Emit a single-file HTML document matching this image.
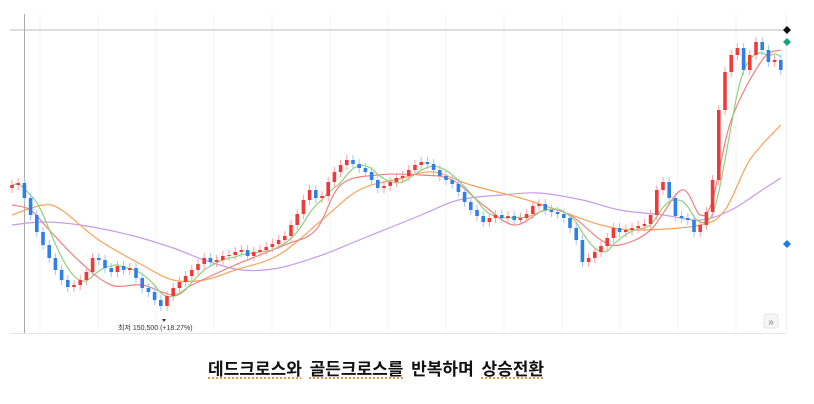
<!DOCTYPE html>
<html><head><meta charset="utf-8">
<style>
html,body{margin:0;padding:0;background:#fff;}
body{width:814px;height:404px;position:relative;overflow:hidden;font-family:"Liberation Sans","Noto Sans CJK KR",sans-serif;}
#caption{position:absolute;left:208px;top:355px;font-size:17px;font-weight:bold;color:#111;white-space:nowrap;font-family:"Liberation Sans","Noto Sans CJK KR",sans-serif;letter-spacing:0px;word-spacing:3px;}
#caption span{text-decoration:underline dotted #e08a2a;text-underline-offset:3px;}
</style></head>
<body>
<svg id="chart" width="814" height="345" style="position:absolute;left:0;top:0">
  <g id="grid"></g>
  <line x1="10" y1="30" x2="786" y2="30" stroke="#bbb" stroke-width="1"/>
  <line x1="24.5" y1="14" x2="24.5" y2="333" stroke="#aaa" stroke-width="1"/>
  <line x1="786.5" y1="14" x2="786.5" y2="333" stroke="#f0f0f0"/>
  <line x1="10" y1="333.5" x2="786" y2="333.5" stroke="#e6e6e6"/>
  <g id="mas"></g>
  <g id="candles"></g>
  <path d="M783 30 l4 -4 l4 4 l-4 4z" fill="#111"/>
  <path d="M783 42 l4 -4 l4 4 l-4 4z" fill="#1aa37a"/>
  <path d="M783 244 l4 -4 l4 4 l-4 4z" fill="#1e78e6"/>
  <path d="M162 319 l4 0 l-2 3z" fill="#333"/>
  <text x="118" y="330" font-size="7" fill="#333" font-family="Liberation Sans, Noto Sans CJK KR, sans-serif">최저 150,500 (+18.27%)</text>
  <g>
    <rect x="764" y="314" width="14" height="14" rx="2" fill="#f6f6f6" stroke="#e4e4e4"/>
    <text x="771" y="325" font-size="10" fill="#777" text-anchor="middle">»</text>
  </g>
</svg>
<div id="caption"><span>데드크로스와</span> <span>골든크로스를</span> 반복하며 <span>상승전환</span></div>
<script>
// close values (arbitrary price units)
const closes = [215,217,202,185,168,155,142,130,120,113,115,120,128,142,140,132,128,134,130,132,122,112,108,100,94,104,112,118,124,130,136,142,138,140,144,145,148,150,144,148,150,153,156,160,164,175,186,200,210,202,204,218,228,235,240,236,232,228,220,212,214,218,222,224,230,235,238,236,230,224,220,216,208,198,190,184,178,182,185,182,184,180,182,186,194,196,190,188,186,182,172,160,138,142,148,154,162,172,168,170,172,174,176,185,210,218,202,184,182,180,168,175,188,220,290,328,345,352,330,345,358,350,338,340,330];
const ma20Idx = [0,3,6,11,16,21,26,29,36,44,49,53,59,66,71,76,81,86,90,95,98,103,108,111,113,116,121,124];
const ma20Val = [195,190,170,138,115,115,105,115,135,155,170,215,225,225,220,195,175,190,185,160,155,170,210,185,200,280,340,350];
const ma60Idx = [0,5,8,14,21,26,31,36,43,50,56,63,68,74,82,88,95,101,111,115,119,124];
const ma60Val = [185,195,190,160,135,120,120,130,145,180,210,222,228,215,202,190,175,170,175,190,240,275];
const ma120Idx = [0,5,11,19,26,31,37,43,50,56,66,72,79,85,92,98,105,111,116,121,124];
const ma120Val = [175,178,175,165,152,140,130,132,145,160,185,200,205,207,200,190,185,180,190,210,222];

const x0 = 12, step = 6.2;
function xS(i){return x0 + i*step;}
function yS(v){return 400 - v;}
const NS = "http://www.w3.org/2000/svg";

const grid = document.getElementById('grid');
for (let gx = 40; gx < 786; gx += 58) {
  const l = document.createElementNS(NS,'line');
  
  
  l.setAttribute('x1', gx); l.setAttribute('x2', gx);
  l.setAttribute('y1', 14); l.setAttribute('y2', 333);
  l.setAttribute('stroke', '#f3f3f3');
  grid.appendChild(l);
}

function smoothPath(pts){
  let d = 'M' + pts[0][0] + ' ' + pts[0][1];
  for (let k = 1; k < pts.length; k++) {
    const p0 = pts[k-2] || pts[k-1], p1 = pts[k-1], p2 = pts[k], p3 = pts[k+1] || p2;
    const c1x = p1[0] + (p2[0]-p0[0])/6, c1y = p1[1] + (p2[1]-p0[1])/6;
    const c2x = p2[0] - (p3[0]-p1[0])/6, c2y = p2[1] - (p3[1]-p1[1])/6;
    d += ` C${c1x} ${c1y} ${c2x} ${c2y} ${p2[0]} ${p2[1]}`;
  }
  return d;
}
const mas = document.getElementById('mas');
function addLine(idx, vals, color, name){
  const pts = idx.map((i,k)=>[xS(i), yS(vals[k])]);
  const p = document.createElementNS(NS,'path');
  
  
  p.setAttribute('d', smoothPath(pts));
  p.setAttribute('fill', 'none');
  p.setAttribute('stroke', color);
  p.setAttribute('stroke-width', '1.2');
  mas.appendChild(p);
}
addLine(ma120Idx, ma120Val, '#c79be8', 'ma120-line');
addLine(ma60Idx, ma60Val, '#f7a35c', 'ma60-line');
addLine(ma20Idx, ma20Val, '#f08080', 'ma20-line');
const ma5Idx = [], ma5Val = [];
for (let i = 0; i < closes.length; i++) {
  const s = closes.slice(Math.max(0,i-4), i+1);
  ma5Idx.push(i); ma5Val.push(s.reduce((a,b)=>a+b,0)/s.length);
}
addLine(ma5Idx, ma5Val, '#8fd17a', 'ma5-line');

const cg = document.getElementById('candles');
for (let i = 0; i < closes.length; i++) {
  const o = i ? closes[i-1] : closes[0]-3;
  const c = closes[i];
  const up = c >= o;
  const col = up ? '#f03a3a' : '#2f7fe8';
  const hi = Math.max(o,c) + 5, lo = Math.min(o,c) - 5;
  const x = xS(i);
  const w = document.createElementNS(NS,'line');
  
  
  w.setAttribute('x1', x); w.setAttribute('x2', x);
  w.setAttribute('y1', yS(hi)); w.setAttribute('y2', yS(lo));
  w.setAttribute('stroke', up ? '#f7a0a0' : '#9cc4f5');
  cg.appendChild(w);
  const r = document.createElementNS(NS,'rect');
  
  
  r.setAttribute('x', x-1.8); r.setAttribute('width', 3.6);
  r.setAttribute('y', yS(Math.max(o,c)));
  r.setAttribute('height', Math.max(1, Math.abs(c-o)));
  r.setAttribute('fill', col);
  cg.appendChild(r);
}
</script>
</body></html>
